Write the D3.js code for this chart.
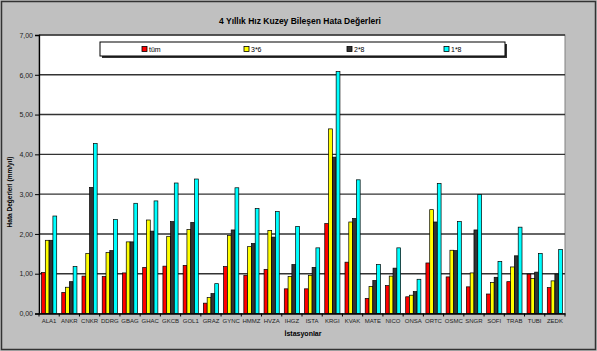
<!DOCTYPE html>
<html>
<head>
<meta charset="utf-8">
<script src="https://cdn.jsdelivr.net/npm/d3@7"></script>
<style>
  html, body { margin: 0; padding: 0; background: #c0c0c0; }
  svg { display: block; font-family: "Liberation Sans", Arial, sans-serif; }
</style>
</head>
<body>
<svg id="chart" width="597" height="351"></svg>
<script>
// Stations along the x axis
const stations = ["ALA1","ANKR","CNKR","DDRG","GBAG","GHAC","GKCB","GOL1","GRAZ","GYNC","HMMZ","HVZA","IHGZ","ISTA","KRGI","KVAK","MATE","NICO","ONSA","ORTC","OSMC","SNGR","SOFI","TRAB","TUBI","ZEDK"];

// Series names and their error values (mm/yıl)
const seriesNames = ["tüm", "3*6", "2*8", "1*8"];
const tum  = [1.03,0.53,0.94,0.93,1.02,1.16,1.19,1.21,0.26,1.18,0.96,1.11,0.62,0.62,2.26,1.29,0.38,0.70,0.42,1.27,0.92,0.67,0.49,0.80,0.99,0.65];
const s36  = [1.84,0.66,1.51,1.53,1.80,2.35,1.94,2.11,0.40,1.96,1.68,2.09,0.93,0.96,4.64,2.30,0.68,0.94,0.46,2.61,1.59,1.02,0.78,1.17,0.88,0.82];
const s28  = [1.84,0.80,3.17,1.58,1.80,2.07,2.31,2.29,0.50,2.10,1.76,1.92,1.23,1.16,3.93,2.39,0.83,1.14,0.55,2.30,1.58,2.10,0.91,1.45,1.04,0.99];
const s18  = [2.45,1.18,4.27,2.36,2.77,2.83,3.28,3.38,0.75,3.16,2.64,2.56,2.19,1.65,6.08,3.36,1.23,1.65,0.86,3.27,2.31,2.99,1.31,2.17,1.51,1.61];
const seriesValues = [tum, s36, s28, s18];
const colors = ["#ff0000", "#ffff00", "#333333", "#00ffff"];

// Y axis ticks
const yTicks = [0,1,2,3,4,5,6,7];
const yTickLabels = ["0,00","1,00","2,00","3,00","4,00","5,00","6,00","7,00"];

const title = "4 Yıllık Hız Kuzey Bileşen Hata Değerleri";
const yTitle = "Hata Değerleri (mm/yıl)";
const xTitle = "İstasyonlar";

const svg = d3.select("#chart");
const W = 597, H = 351;
const plot = { left: 39, right: 565, top: 35, bottom: 313.5 };

// Outer chart frame
svg.append("rect")
  .attr("x", 1.5).attr("y", 1.5).attr("width", W - 3).attr("height", H - 3)
  .attr("fill", "#c0c0c0").attr("stroke", "#333").attr("stroke-width", 1.5);

// Plot area
svg.append("rect")
  .attr("x", plot.left).attr("y", plot.top)
  .attr("width", plot.right - plot.left).attr("height", plot.bottom - plot.top)
  .attr("fill", "#ffffff").attr("stroke", "#808080").attr("stroke-width", 1);

const x0 = d3.scaleBand().domain(stations).range([plot.left, plot.right])
  .paddingInner(0.25).paddingOuter(0.125);
const x1 = d3.scaleBand().domain(d3.range(seriesNames.length)).range([0, x0.bandwidth()]);
const y = d3.scaleLinear().domain([0, 7]).range([plot.bottom, plot.top]);

// Horizontal gridlines
svg.append("g").selectAll("line").data(yTicks.filter(v => v > 0)).join("line")
  .attr("x1", plot.left).attr("x2", plot.right)
  .attr("y1", d => y(d)).attr("y2", d => y(d))
  .attr("stroke", "#333").attr("stroke-width", 1.4);

// Bars
const groups = svg.append("g").selectAll("g").data(stations).join("g")
  .attr("transform", d => `translate(${x0(d)},0)`);
groups.selectAll("rect")
  .data((d, i) => seriesValues.map((vals, s) => ({ s, v: vals[i] })))
  .join("rect")
  .attr("x", d => x1(d.s))
  .attr("y", d => y(d.v))
  .attr("width", x1.bandwidth())
  .attr("height", d => y(0) - y(d.v))
  .attr("fill", d => colors[d.s])
  .attr("stroke", "#000").attr("stroke-width", 0.7);

// Y axis
const yAxis = d3.axisLeft(y).tickValues(yTicks)
  .tickFormat((d, i) => yTickLabels[i]).tickSize(4).tickPadding(2);
const gy = svg.append("g").attr("transform", `translate(${plot.left},0)`).call(yAxis);
gy.select(".domain").attr("stroke", "#000").attr("stroke-width", 1.3);
gy.selectAll(".tick line").attr("stroke", "#000");
gy.selectAll("text").attr("font-size", 7).attr("fill", "#222")
  .attr("font-family", "Liberation Sans, Arial, sans-serif");

// X axis: tick marks sit on category boundaries
const xAxis = d3.axisBottom(x0).tickSize(0).tickPadding(5);
const gx = svg.append("g").attr("transform", `translate(0,${plot.bottom})`).call(xAxis);
gx.select(".domain").attr("stroke", "#000").attr("stroke-width", 1.3);
gx.selectAll("text").attr("font-size", 6).attr("fill", "#222")
  .attr("font-family", "Liberation Sans, Arial, sans-serif");
const step = x0.step();
svg.append("g").selectAll("line").data(d3.range(stations.length + 1)).join("line")
  .attr("x1", i => plot.left + i * step).attr("x2", i => plot.left + i * step)
  .attr("y1", plot.bottom).attr("y2", plot.bottom + 3)
  .attr("stroke", "#000").attr("stroke-width", 1);

// Titles
svg.append("text").attr("x", 300).attr("y", 24).attr("text-anchor", "middle")
  .attr("font-size", 8.5).attr("font-weight", "bold").attr("fill", "#000").text(title);
svg.append("text").attr("x", 303).attr("y", 336).attr("text-anchor", "middle")
  .attr("font-size", 7).attr("font-weight", "bold").attr("fill", "#000").text(xTitle);
svg.append("text").attr("transform", "translate(12,192) rotate(-90)").attr("text-anchor", "middle")
  .attr("font-size", 6.5).attr("font-weight", "bold").attr("fill", "#000").text(yTitle);

// Legend
const lg = svg.append("g");
lg.append("rect").attr("x", 102).attr("y", 44).attr("width", 405).attr("height", 14).attr("fill", "#333");
lg.append("rect").attr("x", 100).attr("y", 42).attr("width", 405).attr("height", 14)
  .attr("fill", "#fff").attr("stroke", "#000").attr("stroke-width", 1);
const legendX = [142, 244, 347, 444];
seriesNames.forEach((name, i) => {
  lg.append("rect").attr("x", legendX[i]).attr("y", 46.5).attr("width", 5).attr("height", 5)
    .attr("fill", colors[i]).attr("stroke", "#000").attr("stroke-width", 0.8);
  lg.append("text").attr("x", legendX[i] + 7).attr("y", 51.8)
    .attr("font-size", 7).attr("fill", "#000").text(name);
});
</script>
</body>
</html>
